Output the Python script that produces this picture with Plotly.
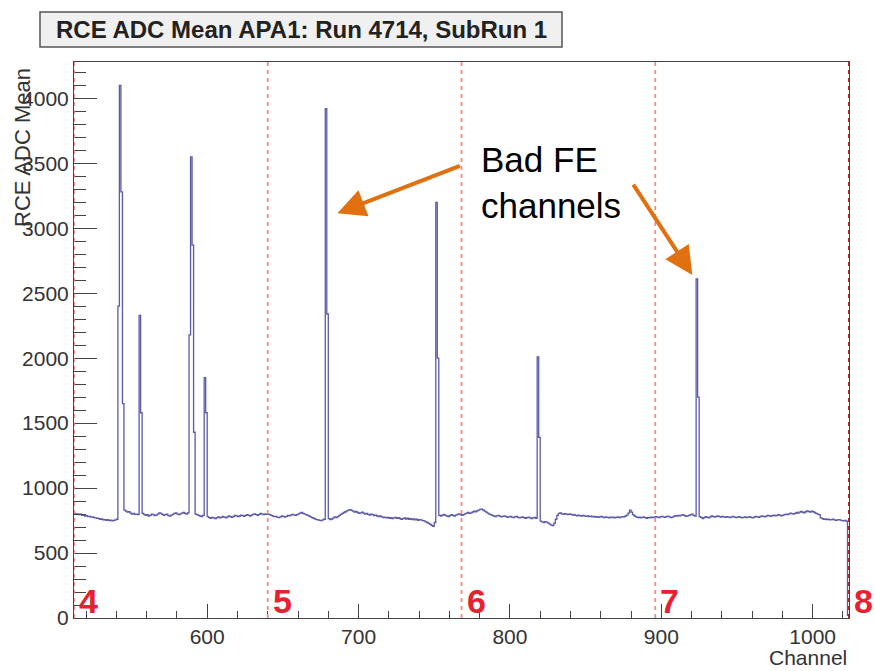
import plotly.graph_objects as go

# ---------------- data ----------------
channels = list(range(512, 1024))

adc_mean = [
    # 512-527
    805, 798, 802, 795, 800, 790, 793, 785, 788, 780, 783, 776, 779, 772, 770, 768,
    # 528-540
    765, 760, 762, 755, 758, 752, 757, 750, 754, 748, 752, 756, 760,
    # 541-544 (bad)
    2400, 4100, 3280, 1650,
    # 545-554
    830, 822, 815, 818, 808, 800, 805, 797, 800, 795,
    # 555-556 (bad)
    2330, 1580,
    # 557-587
    805, 798, 790, 795, 785, 790, 800, 795, 788, 792,
    800, 810, 805, 798, 790, 795, 800, 788, 785, 792,
    798, 805, 810, 800, 795, 802, 808, 812, 805, 800, 810,
    # 588-591 (bad)
    2180, 3550, 2870, 1430,
    # 592-597
    800, 795, 790, 785, 780, 790,
    # 598-599 (bad)
    1850, 1580,
    # 600-639
    780, 772, 768, 775, 770, 765, 772, 778, 770, 775,
    782, 776, 770, 778, 785, 780, 775, 782, 790, 786,
    780, 785, 792, 788, 782, 790, 795, 790, 785, 792,
    798, 802, 796, 790, 798, 805, 800, 795, 802, 798,
    # 640-677
    800, 795, 790, 785, 780, 782, 775, 772, 778, 785,
    780, 776, 782, 790, 786, 792, 798, 794, 790, 796,
    802, 808, 812, 806, 800, 795, 790, 785, 778, 772,
    768, 762, 758, 755, 752, 750, 755, 760,
    # 678-679 (bad)
    3920, 2340,
    # 680-694
    765, 758, 762, 770, 778, 772, 780, 790, 798, 805, 812, 818, 825, 830, 835,
    # 695-710
    828, 822, 815, 820, 812, 805, 810, 815, 808, 800, 805, 798, 792, 800, 795, 788,
    # 711-730
    792, 785, 780, 786, 778, 772, 776, 770, 775, 768,
    772, 765, 770, 775, 768, 772, 766, 760, 765, 770,
    # 731-750
    762, 768, 760, 765, 758, 762, 755, 760, 752, 758,
    755, 750, 748, 740, 735, 728, 720, 712, 705, 735,
    # 751-752 (bad)
    3200, 2000,
    # 753-768
    790, 785, 792, 798, 790, 785, 780, 788, 795, 790, 785, 792, 798, 802, 796, 790,
    # 769-784
    795, 802, 808, 812, 806, 810, 816, 822, 818, 825, 830, 836, 838, 830, 822, 815,
    # 785-800
    808, 800, 795, 790, 785, 780, 786, 790, 784, 778, 782, 786, 780, 775, 778, 782,
    # 801-817
    776, 772, 778, 782, 775, 770, 774, 778, 772, 768, 772, 776, 770, 766, 770, 774, 768,
    # 818-819 (bad)
    2010, 1390,
    # 820-835
    745, 740, 735, 742, 738, 730, 722, 715, 712, 730, 760, 790, 805, 810, 802, 798,
    # 836-851
    804, 800, 796, 802, 798, 792, 795, 790, 786, 792, 788, 784, 790, 786, 782, 786,
    # 852-867
    780, 784, 778, 782, 776, 780, 774, 778, 782, 776, 772, 778, 774, 770, 776, 772,
    # 868-883
    776, 770, 774, 778, 772, 776, 780, 778, 785, 792, 808, 830, 815, 795, 785, 778,
    # 884-899
    772, 776, 770, 774, 778, 772, 768, 774, 770, 776, 772, 776, 780, 776, 772, 778,
    # 900-915
    782, 778, 774, 780, 784, 778, 772, 776, 782, 788, 784, 790, 786, 792, 795, 788,
    # 916-922
    782, 786, 790, 795, 800, 790, 785,
    # 923-924 (bad)
    2610, 1700,
    # 925-940
    780, 775, 765, 772, 780, 775, 770, 778, 785, 780, 776, 782, 786, 780, 776, 782,
    # 941-956
    778, 774, 780, 776, 772, 778, 782, 776, 772, 776, 780, 775, 770, 774, 778, 772,
    # 957-972
    776, 780, 774, 770, 776, 782, 778, 774, 780, 786, 782, 778, 784, 790, 786, 782,
    # 973-988
    788, 792, 786, 790, 796, 792, 786, 790, 795, 800, 796, 802, 808, 804, 800, 806,
    # 989-1004
    812, 808, 815, 820, 814, 810, 818, 824, 820, 815, 822, 818, 812, 806, 800, 795,
    # 1005-1022
    770, 765, 760, 762, 758, 760, 755, 758, 760, 756, 752, 755, 758, 754, 750, 748, 752, 745,
    # 1023
    20,
]
assert len(adc_mean) == len(channels), len(adc_mean)

femb_boundaries = [512, 640, 768, 896, 1024]
femb_labels = ["4", "5", "6", "7", "8"]

title_text = "RCE ADC Mean APA1: Run 4714, SubRun 1"
x_title = "Channel"
y_title = "RCE ADC Mean"
x_range = [512, 1024]
y_range = [0, 4280]

# arrow tips (channel, value) pointing at bad channels
arrow_tips = [(686, 3115), (920.5, 2640)]

# ---------------- figure ----------------
W, H = 875, 671
ML, MT = 74, 62
MR = W - 849
MB = H - 618
PW, PH = W - ML - MR, H - MT - MB

def px_to_paper_x(px):
    return (px - ML) / PW

def px_to_paper_y(py):
    return (MT + PH - py) / PH

FONT = "Liberation Sans, Arial, Helvetica"

fig = go.Figure()
fig.add_trace(go.Scatter(
    x=channels + [channels[-1] + 1], y=adc_mean + [adc_mean[-1]],
    mode="lines", line=dict(color="rgba(60,60,155,0.85)", width=1.3, shape="hv"),
    showlegend=False, hoverinfo="skip",
))

shapes = []
for b in femb_boundaries:
    last = b == femb_boundaries[-1]
    shapes.append(dict(
        type="line", xref="x", yref="paper", x0=b, x1=b, y0=0, y1=1,
        line=dict(color="#a01818" if last else "#f38a8a", width=1.8, dash="4px,4px"),
        layer="above",
    ))
# title box
shapes.append(dict(
    type="rect", xref="paper", yref="paper",
    x0=px_to_paper_x(40), x1=px_to_paper_x(562),
    y0=px_to_paper_y(47), y1=px_to_paper_y(12),
    fillcolor="#f0f0f0", line=dict(color="#555555", width=1.5),
))

annotations = []
annotations.append(dict(
    text="<b>" + title_text + "</b>", xref="paper", yref="paper",
    x=px_to_paper_x(301), y=px_to_paper_y(29.5), xanchor="center", yanchor="middle",
    showarrow=False, font=dict(family=FONT, size=24, color="#222222"),
))
for b, lab in zip(femb_boundaries, femb_labels):
    annotations.append(dict(
        text="<b>" + lab + "</b>", xref="x", yref="y", x=b, y=0,
        xanchor="left", yanchor="bottom", xshift=3, yshift=-4, showarrow=False,
        font=dict(family=FONT, size=34, color="#e82030"),
    ))
annotations.append(dict(
    text=x_title, xref="paper", yref="paper", x=1.0, y=px_to_paper_y(657),
    xanchor="right", yanchor="middle", showarrow=False,
    font=dict(family=FONT, size=21, color="#333333"),
))
annotations.append(dict(
    text=y_title, xref="paper", yref="paper", x=px_to_paper_x(22), y=px_to_paper_y(148),
    xanchor="center", yanchor="middle", textangle=-90, showarrow=False,
    font=dict(family=FONT, size=22, color="#333333"),
))
annotations.append(dict(
    text="Bad FE<br>channels", xref="paper", yref="paper",
    x=px_to_paper_x(479), y=px_to_paper_y(138), xanchor="left", yanchor="top",
    align="left", showarrow=False,
    font=dict(family=FONT, size=35, color="#000000"),
))
arrow_offsets = [(124, -48), (-60, -92)]
for (cx, cv), (ax, ay) in zip(arrow_tips, arrow_offsets):
    annotations.append(dict(
        text="", x=cx, y=cv, xref="x", yref="y", showarrow=True,
        ax=ax, ay=ay, axref="pixel", ayref="pixel",
        arrowhead=2, arrowsize=1.4, arrowwidth=4, arrowcolor="#e07010",
    ))

fig.update_layout(
    width=W, height=H, margin=dict(l=ML, r=MR, t=MT, b=MB, pad=0),
    paper_bgcolor="white", plot_bgcolor="white",
    shapes=shapes, annotations=annotations,
    font=dict(family=FONT, color="#333333"),
    xaxis=dict(
        range=x_range, tick0=0, dtick=100, ticks="inside", ticklen=14, tickwidth=1,
        tickcolor="#444444", showgrid=False, zeroline=False,
        showline=True, mirror=True, linecolor="#444444", linewidth=1,
        tickfont=dict(size=21, color="#333333"),
        minor=dict(dtick=20, ticks="inside", ticklen=7, tickcolor="#444444", showgrid=False),
    ),
    yaxis=dict(
        range=y_range, tick0=0, dtick=500, ticks="inside", ticklen=23, tickwidth=1,
        tickcolor="#444444", showgrid=False, zeroline=False,
        showline=True, mirror=True, linecolor="#444444", linewidth=1,
        tickfont=dict(size=21, color="#333333"),
        minor=dict(dtick=100, ticks="inside", ticklen=12, tickcolor="#444444", showgrid=False),
    ),
)

# remove the browser's default 8px page margin so the figure fills the window exactly
fig.write_html(
    "out.html",
    config={"displayModeBar": False},
    post_script="document.body.style.margin='0px';document.body.style.overflow='hidden';",
)
